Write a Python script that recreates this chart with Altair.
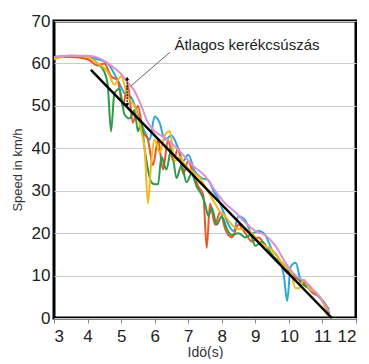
import altair as alt
import pandas as pd

pink_x = [3.0,3.5,4.0,4.4,4.7,5.0,5.2,5.4,5.6,5.8,6.0,6.3,6.6,6.9,7.2,7.5,7.8,8.1,8.4,8.7,9.0,9.3,9.6,9.9,10.2,10.5,10.8,11.0,11.2]
pink_y = [61.5,61.8,61.8,61,59.5,57.5,55.5,53.5,50,46,44,42.5,40.5,38,35.5,33.5,30,27,25,22.5,20.5,19.5,17,13,10,8.5,6,4,1.5]

blue_x = [3.0,3.5,4.0,4.3,4.6,4.9,5.1,5.3,5.5,5.7,5.85,6.0,6.15,6.3,6.5,6.7,6.85,7.0,7.2,7.4,7.6,7.75,7.9,8.05,8.2,8.35,8.5,8.7,8.9,9.1,9.3,9.5,9.7,9.85,9.95,10.05,10.2,10.35,10.5,10.7,10.9,11.1,11.2]
blue_y = [61.5,61.5,61.5,61,60,56,53,52,48,44,42,47.5,46,42,43,40,37,38.5,34.5,33,32.5,30,28,25,22,20.5,24,23,20,20.5,19.5,16,14,10,4,12,13,9,8,6.5,5,3,1]

red_x = [3.0,3.5,4.0,4.3,4.5,4.7,4.9,5.05,5.2,5.35,5.5,5.65,5.8,5.95,6.1,6.25,6.4,6.55,6.7,6.85,7.0,7.15,7.3,7.45,7.55,7.65,7.8,7.95,8.1,8.3,8.5,8.7,8.9,9.1,9.3,9.5,9.7,9.9,10.1,10.3,10.5,10.7,10.9,11.1,11.2]
red_y = [61.5,61.5,61,59.5,60,57,56,50,55,46,50,44,42,36,42,35,42,37,40,34,37,34,31,29,16.5,27,22,25,21,19,22,20,18,19,17,16,14,11,10,9,8,6,5,3,1]

green_x = [3.0,3.5,4.0,4.3,4.5,4.6,4.7,4.8,4.95,5.1,5.25,5.4,5.5,5.6,5.7,5.8,5.9,6.0,6.1,6.2,6.35,6.5,6.65,6.8,6.95,7.1,7.25,7.4,7.5,7.6,7.7,7.85,8.0,8.15,8.3,8.5,8.7,8.85,9.0,9.2,9.4,9.6,9.8,10.0,10.2,10.4,10.6,10.8,11.0,11.2]
green_y = [61.5,61.8,61.5,60,58,55,44,53,54,48,47,49,44,46,40,35,32,31.5,31.5,38,35,40,33,36,32,34,31,29,27,24,26,22,24,21,19.5,20,19,19.5,17,18,16,14,13,11,10,8,7,6,4,2]

yellow_x = [3.0,3.5,4.0,4.3,4.6,4.8,5.0,5.2,5.4,5.6,5.7,5.8,5.9,6.0,6.15,6.3,6.45,6.6,6.75,6.9,7.05,7.2,7.35,7.5,7.65,7.8,7.95,8.1,8.3,8.5,8.7,8.9,9.1,9.3,9.5,9.7,9.9,10.05,10.2,10.3,10.45,10.6,10.8,11.0,11.15]
yellow_y = [61,61.8,61.5,60,58,55,57,52,50,44,40,27,37,42,39,43,44,37,38,36,35,34,33,31,29,27,25,24,22,21,21,20,18,17,16,14,12,11,7,7,9,7,6,4,0.5]

series_names = ["pink", "blue", "red", "green", "yellow"]
series_colors = ["#d992d2", "#2ca6dc", "#e8582a", "#2f9a48", "#f4b71c"]

trend_x = [4.1, 11.28]
trend_y = [58.5, 0]

x_ticks = [3, 4, 5, 6, 7, 8, 9, 10, 11, 12]
y_ticks = [0, 10, 20, 30, 40, 50, 60, 70]

label_text = ["Átlagos kerékcsúszás"]
label_x = [8.75]
label_y = [64.3]
pointer_x = [6.45, 5.28]
pointer_y = [62.6, 54.6]
arrow_x = [5.18, 5.18]
arrow_y = [56.3, 50.3]

rows = []
for name, xs, ys in [("blue", blue_x, blue_y), ("red", red_x, red_y),
                     ("green", green_x, green_y), ("yellow", yellow_x, yellow_y),
                     ("pink", pink_x, pink_y)]:
    for i, (a, b) in enumerate(zip(xs, ys)):
        rows.append({"series": name, "t": a, "v": b, "o": i})
df = pd.DataFrame(rows)

xs = alt.Scale(domain=[3, 12], nice=False)
ys = alt.Scale(domain=[0, 70], nice=False)

xaxis = alt.Axis(values=x_ticks, title="Idö(s)", grid=False, labelFontSize=17,
                 labelColor="#222", titleFontSize=14, titleColor="#333",
                 titleFontWeight="normal", tickColor="#888", tickSize=5,
                 domain=False, labelPadding=5, titlePadding=1, labelOverlap=False)
yaxis = alt.Axis(values=y_ticks, title="Speed in km/h", grid=True, gridColor="#cccccc",
                 labelFontSize=17, labelColor="#222", titleFontSize=13,
                 titleColor="#333", titleFontWeight="normal", ticks=False,
                 domain=False, labelPadding=4, titlePadding=7, labelOverlap=False)

X = alt.X("t:Q", scale=xs, axis=xaxis)
Y = alt.Y("v:Q", scale=ys, axis=yaxis)

lines = alt.Chart(df).mark_line(strokeWidth=2, interpolate="monotone").encode(
    x=X, y=Y,
    color=alt.Color("series:N", scale=alt.Scale(domain=series_names, range=series_colors), legend=None),
    order="o:Q",
    detail="series:N",
)

tdf = pd.DataFrame({"t": trend_x, "v": trend_y})
trend = alt.Chart(tdf).mark_line(color="black", strokeWidth=2.5).encode(x=X, y=Y)

pdf = pd.DataFrame({"t": pointer_x, "v": pointer_y})
pointer = alt.Chart(pdf).mark_line(color="#666", strokeWidth=1).encode(x=X, y=Y)

adf = pd.DataFrame({"t": [arrow_x[0]], "v": [arrow_y[0]], "v2": [arrow_y[1]]})
arrow = alt.Chart(adf).mark_rule(color="black", strokeWidth=1.2, strokeDash=[2, 1]).encode(
    x=X, y=Y, y2="v2:Q")
heads = pd.DataFrame({"t": arrow_x, "v": arrow_y, "a": [0, 180]})
arrowheads = alt.Chart(heads).mark_point(shape="triangle", filled=True, color="black", size=18, opacity=1).encode(
    x=X, y=Y, angle=alt.Angle("a:Q", scale=None))

ldf = pd.DataFrame({"t": label_x, "v": label_y, "s": label_text})
label = alt.Chart(ldf).mark_text(fontSize=15, color="#222", font="Liberation Sans").encode(
    x=X, y=Y, text="s:N")

chart = alt.layer(lines, trend, pointer, arrow, arrowheads, label).properties(
    width=302, height=297,
    padding={"left": 3, "top": 4, "right": 0, "bottom": 0},
).configure(font="Liberation Sans").configure_view(
    stroke="black", strokeWidth=3
).configure_axisX(labelOverlap=False)

chart.save("out.html", embed_options={"renderer": "svg", "actions": False})
